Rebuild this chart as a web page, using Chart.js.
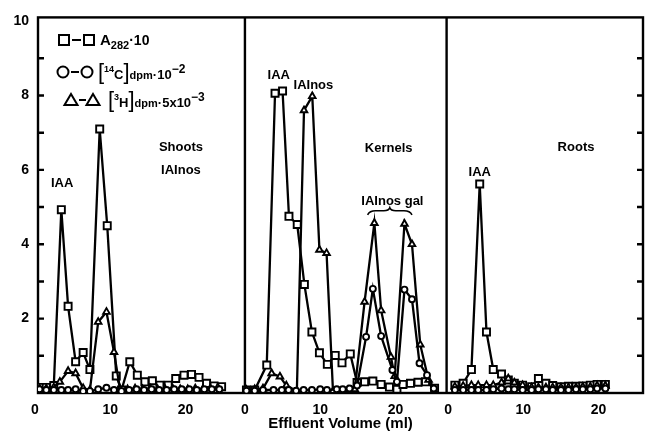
<!DOCTYPE html>
<html><head><meta charset="utf-8">
<script src="https://cdn.jsdelivr.net/npm/chart.js@4"></script>
<style>html,body{margin:0;padding:0;background:#fff}#wrap{width:653px;height:434px;position:relative}</style>
</head><body><div id="wrap"><canvas id="c" width="653" height="434"></canvas></div>
<script>
// ---- data (Effluent volume ml, value) ----
const panelNames = ['Shoots', 'Kernels', 'Roots'];
const xTickValues = [0, 10, 20];
const yTickValues = [2, 4, 6, 8, 10];

const shootsA282 = [[0.6,0.15],[1.5,0.15],[2.5,0.2],[3.5,4.93],[4.4,2.33],[5.4,0.84],[6.4,1.09],[7.3,0.63],[8.6,7.1],[9.6,4.5],[10.8,0.46],[11.5,0.08],[12.6,0.84],[13.6,0.48],[14.6,0.3],[15.6,0.33],[16.6,0.21],[17.7,0.21],[18.7,0.39],[19.8,0.48],[20.8,0.5],[21.8,0.42],[22.8,0.26],[23.8,0.19],[24.8,0.17]];
const shootsC14 = [[0.6,0.1],[1.5,0.08],[2.5,0.08],[3.5,0.08],[4.4,0.08],[5.4,0.1],[6.4,0.05],[7.3,0.05],[8.4,0.1],[9.5,0.14],[10.5,0.08],[11.5,0.05],[12.5,0.08],[13.5,0.1],[14.5,0.08],[15.5,0.1],[16.5,0.08],[17.5,0.08],[18.5,0.1],[19.5,0.1],[20.5,0.1],[21.5,0.08],[22.5,0.1],[23.5,0.1],[24.5,0.1]];
const shootsH3 = [[0.6,0.12],[1.5,0.12],[2.5,0.15],[3.3,0.3],[4.4,0.59],[5.4,0.53],[6.4,0.13],[7.3,0.08],[8.4,1.91],[9.5,2.18],[10.5,1.1],[11.3,0.1],[12.3,0.1],[13.3,0.12],[14.3,0.1],[15.3,0.12],[16.3,0.1],[17.3,0.1],[18.3,0.12],[19.3,0.1],[20.3,0.1],[21.3,0.12],[22.3,0.1],[23.3,0.12],[24.3,0.15]];

const kernelsA282 = [[0.2,0.08],[1.3,0.08],[2.9,0.75],[4.0,8.06],[5.0,8.12],[5.85,4.75],[6.95,4.53],[7.9,2.92],[8.9,1.64],[9.9,1.08],[10.95,0.77],[12.0,1.01],[12.9,0.81],[14.0,1.05],[14.9,0.28],[15.9,0.3],[17.0,0.32],[18.1,0.23],[19.2,0.16],[20.2,0.1],[21.0,0.23],[22.0,0.26],[23.0,0.29],[24.0,0.3],[25.2,0.13]];
const kernelsC14 = [[0.2,0.06],[1.3,0.06],[2.4,0.08],[3.8,0.08],[4.9,0.08],[5.8,0.08],[6.8,0.06],[7.8,0.08],[8.9,0.08],[10.0,0.1],[10.9,0.08],[12.2,0.1],[13.0,0.1],[13.9,0.12],[14.9,0.2],[16.1,1.51],[17.0,2.8],[18.1,1.53],[19.6,0.62],[20.2,0.3],[21.2,2.78],[22.2,2.52],[23.2,0.8],[24.2,0.48],[25.1,0.12]];
const kernelsH3 = [[0.2,0.08],[1.3,0.1],[2.4,0.12],[3.55,0.53],[4.65,0.44],[5.5,0.2],[6.9,0.05],[7.85,7.6],[8.95,7.98],[9.9,3.85],[10.85,3.76],[11.7,0.05],[12.7,0.05],[13.7,0.08],[14.6,0.1],[15.9,2.45],[17.2,4.57],[18.1,2.22],[19.4,0.97],[19.9,0.45],[21.2,4.55],[22.2,4.0],[23.3,1.3],[24.4,0.35]];

const rootsA282 = [[0.9,0.21],[2.0,0.26],[3.1,0.63],[4.2,5.62],[5.1,1.64],[6.0,0.63],[7.1,0.51],[8.0,0.35],[8.8,0.26],[9.9,0.21],[11.1,0.17],[12.0,0.39],[13.0,0.26],[13.9,0.2],[15.0,0.17],[16.0,0.18],[17.0,0.18],[17.9,0.19],[18.9,0.21],[19.8,0.23],[20.9,0.23]];
const rootsC14 = [[0.9,0.08],[2.0,0.08],[3.1,0.08],[4.0,0.08],[5.1,0.08],[6.0,0.1],[7.1,0.12],[8.0,0.1],[8.8,0.1],[9.9,0.08],[11.1,0.08],[12.0,0.1],[13.0,0.1],[13.9,0.08],[15.0,0.08],[16.0,0.08],[17.0,0.1],[17.9,0.1],[18.9,0.1],[19.8,0.12],[20.9,0.12]];
const rootsH3 = [[0.9,0.17],[2.0,0.19],[3.1,0.21],[4.0,0.21],[5.1,0.21],[6.0,0.21],[7.1,0.28],[8.0,0.39],[8.8,0.28],[9.9,0.21],[11.1,0.15],[12.0,0.15],[13.0,0.15],[13.9,0.15],[15.0,0.15],[16.0,0.15],[17.0,0.15],[17.9,0.17],[18.9,0.17],[19.8,0.2],[20.9,0.2]];

// ---- layout of the three panels on one shared linear axis ----
const panelZero = [0, 27.9, 54.9];
const panelDividers = [27.9, 54.7];
const X_MIN = 0.4, X_MAX = 80.8, Y_MAX = 10.1;
const FONT = "'Liberation Sans', Arial, Helvetica, sans-serif";

const seriesDefs = [
  {name:'C14', style:'circle', r:3, sets:[shootsC14, kernelsC14, rootsC14]},
  {name:'H3', style:'triangle', r:3.8, sets:[shootsH3, kernelsH3, rootsH3]},
  {name:'A282', style:'rect', r:5, sets:[shootsA282, kernelsA282, rootsA282]}
];
const datasets = [];
seriesDefs.forEach(s => s.sets.forEach((arr, p) => {
  datasets.push({
    label: s.name + ' ' + panelNames[p],
    data: arr.map(([x, y]) => ({x: x + panelZero[p], y})),
    borderColor: '#000', borderWidth: 2.3, tension: 0, fill: false,
    pointStyle: s.style, pointRadius: s.r, pointBorderWidth: 1.9,
    pointBackgroundColor: '#fff', pointBorderColor: '#000'
  });
}));

function drawRuns(ctx, x, y, runs) {
  runs.forEach(r => {
    ctx.font = (r.w || 'bold') + ' ' + r.s + 'px ' + FONT;
    ctx.fillText(r.t, x, y + (r.dy || 0));
    x += ctx.measureText(r.t).width + (r.gap || 0);
  });
}

const framePlugin = {
  id: 'frame',
  beforeDatasetsDraw(chart) {
    const {ctx, chartArea: a, scales: {x, y}} = chart;
    ctx.save();
    ctx.strokeStyle = '#000'; ctx.lineWidth = 2.4;
    ctx.strokeRect(a.left, a.top, a.right - a.left, a.bottom - a.top);
    ctx.beginPath();
    panelDividers.forEach(d => { const px = x.getPixelForValue(d); ctx.moveTo(px, a.top); ctx.lineTo(px, a.bottom); });
    for (let v = 1; v <= 9; v++) {
      const py = y.getPixelForValue(v);
      ctx.moveTo(a.left, py); ctx.lineTo(a.left + 6, py);
      ctx.moveTo(a.right, py); ctx.lineTo(a.right - 6, py);
    }
    ctx.stroke();
    ctx.restore();
  },
  afterDraw(chart) {
    const {ctx, scales: {x, y}} = chart;
    const px = (p, ml) => x.getPixelForValue(panelZero[p] + ml);
    const py = v => y.getPixelForValue(v);
    ctx.save();
    ctx.fillStyle = '#000';
    ctx.textAlign = 'center'; ctx.textBaseline = 'middle';
    ctx.font = 'bold 13px ' + FONT;
    const notes = [
      [0, 3.6, 5.63, 'IAA'], [0, 19.4, 6.6, 'Shoots'], [0, 19.4, 5.98, 'IAInos'],
      [1, 4.5, 8.53, 'IAA'], [1, 9.1, 8.28, 'IAInos'], [1, 19.1, 6.57, 'Kernels'],
      [1, 19.6, 5.15, 'IAInos gal'], [2, 17.0, 6.6, 'Roots'], [2, 4.2, 5.92, 'IAA']
    ];
    notes.forEach(([p, ml, v, t]) => ctx.fillText(t, px(p, ml), py(v)));
    // brace under "IAInos gal"
    const bx0 = px(1, 16.3), bx1 = px(1, 22.2), bm = (bx0 + bx1) / 2, by = py(4.9);
    ctx.strokeStyle = '#000'; ctx.lineWidth = 1.6;
    ctx.beginPath();
    ctx.moveTo(bx0, by + 4);
    ctx.quadraticCurveTo(bx0 + 2, by, bx0 + 8, by);
    ctx.lineTo(bm - 6, by);
    ctx.quadraticCurveTo(bm - 1, by, bm, by - 3);
    ctx.quadraticCurveTo(bm + 1, by, bm + 6, by);
    ctx.lineTo(bx1 - 8, by);
    ctx.quadraticCurveTo(bx1 - 2, by, bx1, by + 4);
    ctx.stroke();

    // legend
    ctx.textAlign = 'left'; ctx.textBaseline = 'alphabetic';
    ctx.lineWidth = 2;
    const sym = (kind, cx, cy) => {
      ctx.beginPath();
      if (kind === 'rect') ctx.rect(cx - 5, cy - 5, 10, 10);
      else if (kind === 'circle') ctx.arc(cx, cy, 5.5, 0, Math.PI * 2);
      else { ctx.moveTo(cx, cy - 6); ctx.lineTo(cx + 6.5, cy + 5); ctx.lineTo(cx - 6.5, cy + 5); ctx.closePath(); }
      ctx.stroke();
    };
    const dash = (x0, x1, cy) => { ctx.beginPath(); ctx.moveTo(x0, cy); ctx.lineTo(x1, cy); ctx.stroke(); };
    sym('rect', 64, 40); dash(72, 81, 40); sym('rect', 89, 40);
    drawRuns(ctx, 100, 45, [{t:'A', s:15}, {t:'282', s:11, dy:4}, {t:'·10', s:14}]);
    sym('circle', 63, 72); dash(71, 79, 72); sym('circle', 87, 72);
    drawRuns(ctx, 98, 79, [{t:'[', s:22, w:'normal'}, {t:'14', s:9, dy:-7}, {t:'C', s:13}, {t:']', s:22, w:'normal'}, {t:'dpm', s:11}, {t:'·10', s:13}, {t:'−2', s:12, dy:-6}]);
    sym('tri', 71, 100); dash(79, 86, 100); sym('tri', 93, 100);
    drawRuns(ctx, 108, 107, [{t:'[', s:22, w:'normal'}, {t:'3', s:9, dy:-7}, {t:'H', s:13}, {t:']', s:22, w:'normal'}, {t:'dpm', s:11}, {t:'·5x10', s:13}, {t:'−3', s:12, dy:-6}]);
    ctx.restore();
  }
};

new Chart(document.getElementById('c'), {
  type: 'line',
  data: {datasets},
  plugins: [framePlugin],
  options: {
    responsive: false, animation: false, devicePixelRatio: 1,
    layout: {padding: {top: 16, right: 10, left: 0, bottom: 0}},
    plugins: {legend: {display: false}, tooltip: {enabled: false}},
    scales: {
      x: {
        type: 'linear', min: X_MIN, max: X_MAX,
        grid: {display: false, drawTicks: false}, border: {display: false},
        afterBuildTicks: s => {
          const t = [];
          panelZero.forEach(z => xTickValues.forEach(v => t.push({value: z + v})));
          s.ticks = t;
        },
        ticks: {
          autoSkip: false, maxRotation: 0, padding: 9, color: '#000',
          font: {family: FONT, size: 14, weight: 'bold'},
          callback: value => {
            for (let p = panelZero.length - 1; p >= 0; p--) {
              if (value >= panelZero[p] - 0.01) return String(Math.round(value - panelZero[p]));
            }
            return '';
          }
        },
        title: {display: true, text: 'Effluent Volume (ml)', color: '#000',
          font: {family: FONT, size: 15, weight: 'bold'}, padding: {top: 0, bottom: 1}},
        afterFit: s => { s.height = 41; }
      },
      y: {
        min: 0, max: Y_MAX,
        grid: {display: false, drawTicks: false}, border: {display: false},
        afterBuildTicks: s => { s.ticks = yTickValues.map(v => ({value: v})); },
        ticks: {padding: 9, color: '#000', font: {family: FONT, size: 14, weight: 'bold'}},
        afterFit: s => { s.width = 38; }
      }
    }
  }
});
</script></body></html>
